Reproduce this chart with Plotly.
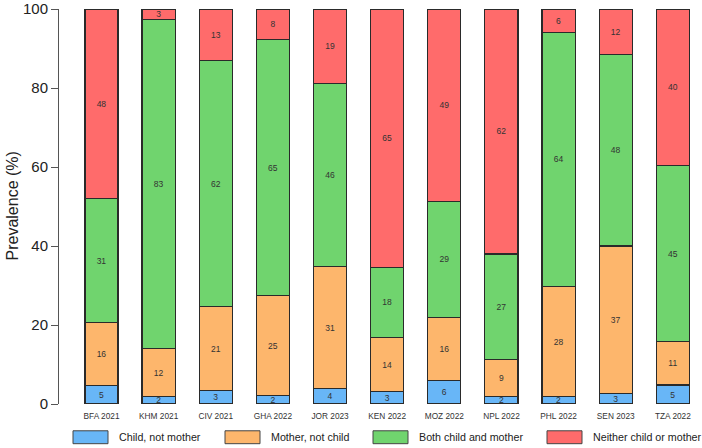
import plotly.graph_objects as go

countries = ["BFA 2021", "KHM 2021", "CIV 2021", "GHA 2022", "JOR 2023", "KEN 2022",
             "MOZ 2022", "NPL 2022", "PHL 2022", "SEN 2023", "TZA 2022"]
child_not_mother = [4.6, 1.8, 3.4, 2.1, 3.9, 3.1, 6.0, 1.8, 1.8, 2.6, 4.8]
mother_not_child = [16.0, 12.2, 21.2, 25.3, 30.9, 13.7, 15.9, 9.4, 27.9, 37.4, 11.0]
both = [31.4, 83.3, 62.4, 64.9, 46.3, 17.8, 29.4, 26.8, 64.4, 48.4, 44.6]
neither = [48.0, 2.7, 13.0, 7.7, 18.9, 65.4, 48.7, 62.0, 5.9, 11.6, 39.6]

series_names = ["Child, not mother", "Mother, not child", "Both child and mother", "Neither child or mother"]
series_values = [child_not_mother, mother_not_child, both, neither]
colors = ["#68B6F7", "#FDB66C", "#70D46E", "#FF6B6B"]

FONT = "Liberation Sans, Arial, sans-serif"
xs = list(range(len(countries)))

fig = go.Figure()
for name, vals, col in zip(series_names, series_values, colors):
    fig.add_trace(go.Bar(
        x=xs, y=vals, name=name, width=0.58,
        marker=dict(color=col, line=dict(color="#2a2a2a", width=1.2)),
        text=[f"{round(v):d}" for v in vals],
        textposition="inside", insidetextanchor="middle", textangle=0,
        textfont=dict(size=8.5, color="#333333", family=FONT),
        showlegend=False,
    ))

# plot area geometry in pixels
L, R, T, B = 59, 0, 6, 44
W = 702 - L - R
H = 448 - T - B

def px_x(p):
    return (p - L) / W

def px_y(p):
    return (448 - B - p) / H

legend_items = [(73, 117), (225, 269), (373, 417), (547, 591)]
shapes = []
annotations = []
for (sx, tx), name, col in zip(legend_items, series_names, colors):
    shapes.append(dict(type="rect", xref="paper", yref="paper",
                       x0=px_x(sx), x1=px_x(sx + 35), y0=px_y(444), y1=px_y(431),
                       fillcolor=col, line=dict(color="#444444", width=1)))
    annotations.append(dict(text=name, xref="paper", yref="paper", x=px_x(tx), y=px_y(437.5),
                            xanchor="left", yanchor="middle", showarrow=False,
                            font=dict(size=10.7, color="#222222", family=FONT)))

annotations.append(dict(text="Prevalence (%)", xref="paper", yref="paper", x=px_x(12), y=0.5,
                        xanchor="center", yanchor="middle", textangle=-90, showarrow=False,
                        font=dict(size=16, color="#222222", family=FONT)))

fig.update_layout(
    barmode="stack",
    width=702, height=448,
    margin=dict(l=L, r=R, t=T, b=B, pad=0),
    paper_bgcolor="white", plot_bgcolor="white",
    font=dict(family=FONT, color="#222222"),
    uniformtext=dict(minsize=8.5, mode="show"),
    xaxis=dict(range=[-0.744, 10.51], tickmode="array", tickvals=xs, ticktext=countries,
               showgrid=False, zeroline=False, showline=False, ticks="outside", ticklen=4,
               tickcolor="rgba(0,0,0,0)", tickfont=dict(size=8.3, color="#333333", family=FONT),
               fixedrange=True),
    yaxis=dict(range=[0, 100], tickmode="array", tickvals=[0, 20, 40, 60, 80, 100],
               showgrid=False, zeroline=False, showline=True, linecolor="#555555", linewidth=1,
               ticks="outside", ticklen=7, tickcolor="#555555", ticklabeloverflow="allow",
               tickfont=dict(size=15, color="#222222", family=FONT)),
    shapes=shapes,
    annotations=annotations,
)

fig.write_html("out.html")
